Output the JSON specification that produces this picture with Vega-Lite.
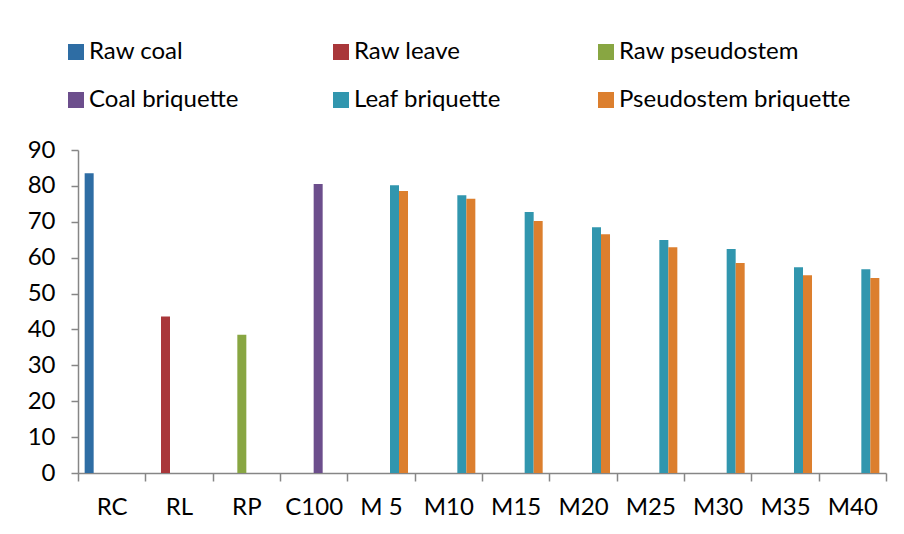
{
  "$schema": "https://vega.github.io/schema/vega-lite/v6.json",
  "width": 808,
  "height": 323,
  "autosize": "none",
  "padding": {"left": 78, "top": 150, "right": 18, "bottom": 61},
  "background": "white",
  "config": {
    "view": {"stroke": null},
    "font": "Lato",
    "axis": {"labelFont": "Lato", "labelColor": "#000000", "domainColor": "#868686", "tickColor": "#868686", "grid": false, "title": null}
  },
  "data": {
    "values": [
      {"sample": "RC", "series": "Raw coal", "value": 83.5},
      {"sample": "RL", "series": "Raw leave", "value": 43.6},
      {"sample": "RP", "series": "Raw pseudostem", "value": 38.5},
      {"sample": "C100", "series": "Coal briquette", "value": 80.5},
      {"sample": "M 5", "series": "Leaf briquette", "value": 80.2},
      {"sample": "M 5", "series": "Pseudostem briquette", "value": 78.6},
      {"sample": "M10", "series": "Leaf briquette", "value": 77.4},
      {"sample": "M10", "series": "Pseudostem briquette", "value": 76.4},
      {"sample": "M15", "series": "Leaf briquette", "value": 72.7},
      {"sample": "M15", "series": "Pseudostem briquette", "value": 70.2},
      {"sample": "M20", "series": "Leaf briquette", "value": 68.5},
      {"sample": "M20", "series": "Pseudostem briquette", "value": 66.5},
      {"sample": "M25", "series": "Leaf briquette", "value": 64.9},
      {"sample": "M25", "series": "Pseudostem briquette", "value": 62.9},
      {"sample": "M30", "series": "Leaf briquette", "value": 62.4},
      {"sample": "M30", "series": "Pseudostem briquette", "value": 58.5},
      {"sample": "M35", "series": "Leaf briquette", "value": 57.3},
      {"sample": "M35", "series": "Pseudostem briquette", "value": 55.1},
      {"sample": "M40", "series": "Leaf briquette", "value": 56.8},
      {"sample": "M40", "series": "Pseudostem briquette", "value": 54.3}
    ]
  },
  "mark": {"type": "bar"},
  "encoding": {
    "x": {
      "field": "sample",
      "type": "nominal",
      "sort": ["RC", "RL", "RP", "C100", "M 5", "M10", "M15", "M20", "M25", "M30", "M35", "M40"],
      "scale": {"paddingInner": 0, "paddingOuter": 0},
      "axis": {"tickBand": "extent", "tickSize": 8, "labelAngle": 0, "labelFontSize": 24, "labelPadding": 14, "domainWidth": 1.5, "tickWidth": 1.5}
    },
    "xOffset": {
      "field": "series",
      "type": "nominal",
      "scale": {"domain": ["Raw coal", "Raw leave", "Raw pseudostem", "Coal briquette", "Leaf briquette", "Pseudostem briquette"], "paddingInner": 0, "paddingOuter": 0.74}
    },
    "y": {
      "field": "value",
      "type": "quantitative",
      "scale": {"domain": [0, 90], "nice": false},
      "axis": {"values": [0, 10, 20, 30, 40, 50, 60, 70, 80, 90], "tickSize": 7, "labelFontSize": 24, "labelPadding": 16, "domainWidth": 1.5, "tickWidth": 1.5}
    },
    "color": {
      "field": "series",
      "type": "nominal",
      "scale": {
        "domain": ["Raw coal", "Raw leave", "Raw pseudostem", "Coal briquette", "Leaf briquette", "Pseudostem briquette"],
        "range": ["#2E6DA4", "#A9373A", "#88A642", "#6C4E8C", "#3196AE", "#DC7F2E"]
      },
      "legend": {
        "title": null,
        "orient": "none",
        "legendX": -14,
        "legendY": -110,
        "direction": "horizontal",
        "columns": 3,
        "gridAlign": "all",
        "columnPadding": 8,
        "rowPadding": 24,
        "padding": 0,
        "symbolType": "square",
        "symbolSize": 256,
        "symbolStrokeWidth": 0,
        "symbolOpacity": 1,
        "labelFontSize": 24,
        "labelColor": "#000000",
        "labelOffset": 1,
        "labelLimit": 400
      }
    }
  }
}
